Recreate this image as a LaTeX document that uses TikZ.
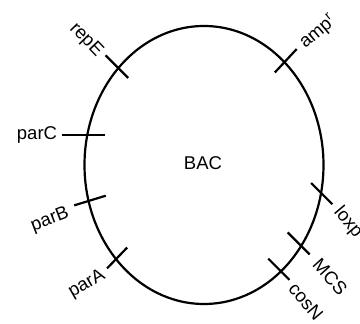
\documentclass[tikz,border=0pt]{standalone}
\usepackage{fontspec}
\setmainfont{Liberation Sans}
\usetikzlibrary{calc}
\tikzset{
  every picture/.style={x=1pt, y=1pt, line width=2.2pt},
  ring/.style={draw=black, line width=2.2pt},
  tick/.style={draw=black, line width=2.2pt},
  lbl/.style={font=\fontsize{18.5}{20}\selectfont, inner sep=0pt},
}
\begin{document}
\begin{tikzpicture}
  \useasboundingbox (0,0) rectangle (360,324);
  \coordinate (c) at (204,159);
  \draw[ring] (c) ellipse [x radius=119.5pt, y radius=139pt];
  \node[lbl] (bac) at (203,161) {BAC};

  % ticks: name / place on ring / direction / inside / outside
  \foreach \nm/\t/\d/\i/\o in {repE/135.8/135/14/18, ampr/47.7/47/14/18,
      parC/167.5/180/18/25, parB/195/197/18/15, parA/222.6/226/16/13,
      loxp/-11.6/-45/14/16, MCS/-35.6/-45/19/12, cosN/-49.9/-45/18/12} {
    \coordinate (\nm-x) at ($(c)+(\t:119.5pt and 139pt)$);
    \coordinate (\nm-in) at ($(\nm-x)+(\d:-\i pt)$);
    \coordinate (\nm-out) at ($(\nm-x)+(\d:\o pt)$);
    \draw[tick] (\nm-in) -- (\nm-out);
  }

  \node[lbl, rotate=-46] (repE) at (86,284) {repE};
  \node[lbl, rotate=40] (ampr) at (318,292) {amp\textsuperscript{r}};
  \node[lbl] (parC) at (37,189) {parC};
  \node[lbl, rotate=21] (parB) at (50,104) {parB};
  \node[lbl, rotate=30] (parA) at (87,40) {parA};
  \node[lbl, rotate=-50] (loxp) at (348,102) {loxp};
  \node[lbl, rotate=-48] (MCS) at (330,47) {MCS};
  \node[lbl, rotate=-50] (cosN) at (306,22) {cosN};
\end{tikzpicture}
\end{document}
